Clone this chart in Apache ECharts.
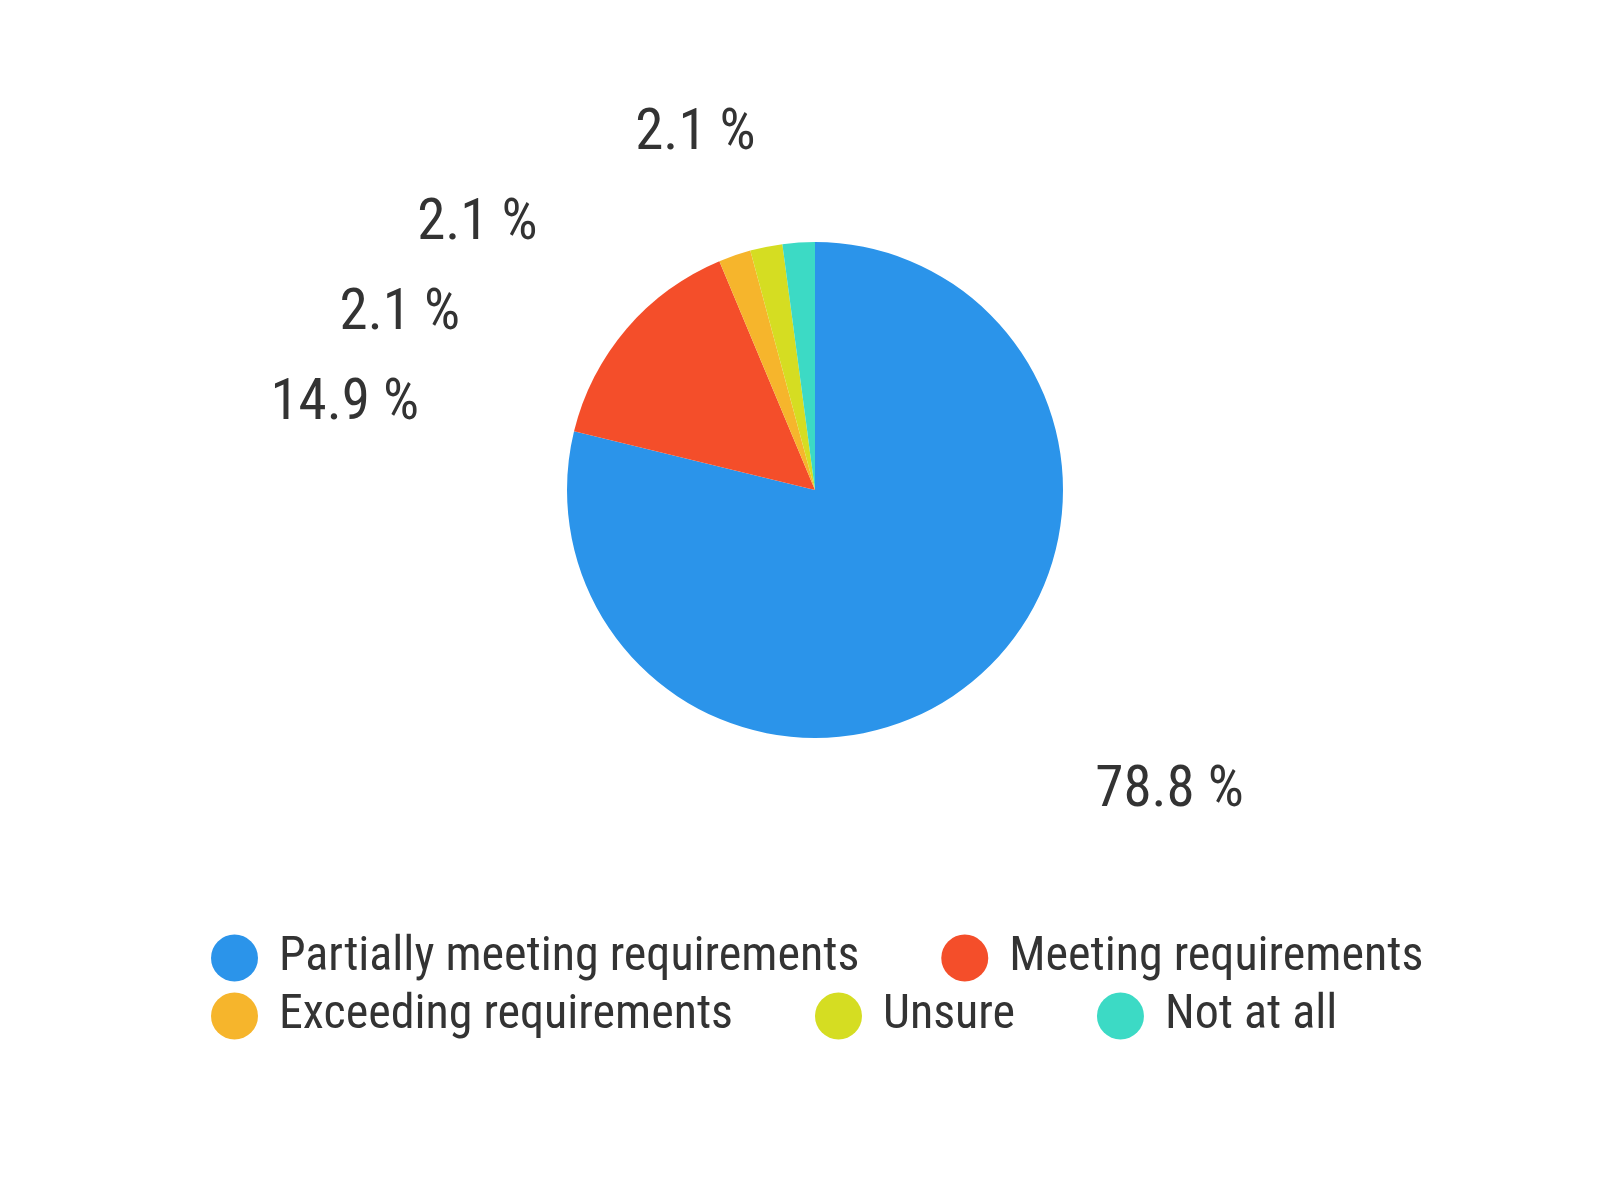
<!DOCTYPE html>
<html>
<head>
<meta charset="utf-8">
<script src="https://cdn.jsdelivr.net/npm/echarts@6/dist/echarts.min.js"></script>
<style>
html,body{margin:0;padding:0;background:#fff;}
#chart{width:1600px;height:1177px;}
</style>
</head>
<body>
<div id="chart"></div>
<script>
const categories = ['Partially meeting requirements', 'Meeting requirements', 'Exceeding requirements', 'Unsure', 'Not at all'];
const values = [78.8, 14.9, 2.1, 2.1, 2.1];
const colors = ['#2b94ea', '#f44e2a', '#f6b52c', '#d5dd22', '#3cdac5'];
const legendRow1 = categories.slice(0, 2);
const legendRow2 = categories.slice(2);

const FONT = "'Roboto Condensed', 'Liberation Sans Narrow', Roboto, sans-serif";
const chart = echarts.init(document.getElementById('chart'));

const legendBase = {
  orient: 'horizontal',
  left: 206,
  icon: 'circle',
  itemWidth: 47,
  itemHeight: 47,
  itemGap: 82,
  selectedMode: false,
  textStyle: { fontFamily: FONT, fontSize: 48, color: '#333', padding: [0, 0, 0, 16] }
};

chart.setOption({
  color: colors,
  animation: false,
  legend: [
    Object.assign({}, legendBase, { top: 929, data: legendRow1 }),
    Object.assign({}, legendBase, { top: 987, data: legendRow2 })
  ],
  series: [{
    type: 'pie',
    center: [815, 490],
    radius: 248,
    startAngle: 90,
    clockwise: true,
    avoidLabelOverlap: true,
    label: {
      show: true,
      position: 'outside',
      formatter: '{c} %',
      fontFamily: FONT,
      fontSize: 57,
      color: '#333',
      lineHeight: 88
    },
    labelLine: { show: false, length: 136, length2: 38 },
    labelLayout: function (p) {
      return p.dataIndex > 0 ? { dx: 9, dy: 28 } : {};
    },
    emphasis: { disabled: true },
    data: categories.map((name, i) => ({ name: name, value: values[i] }))
  }]
});
</script>
</body>
</html>
